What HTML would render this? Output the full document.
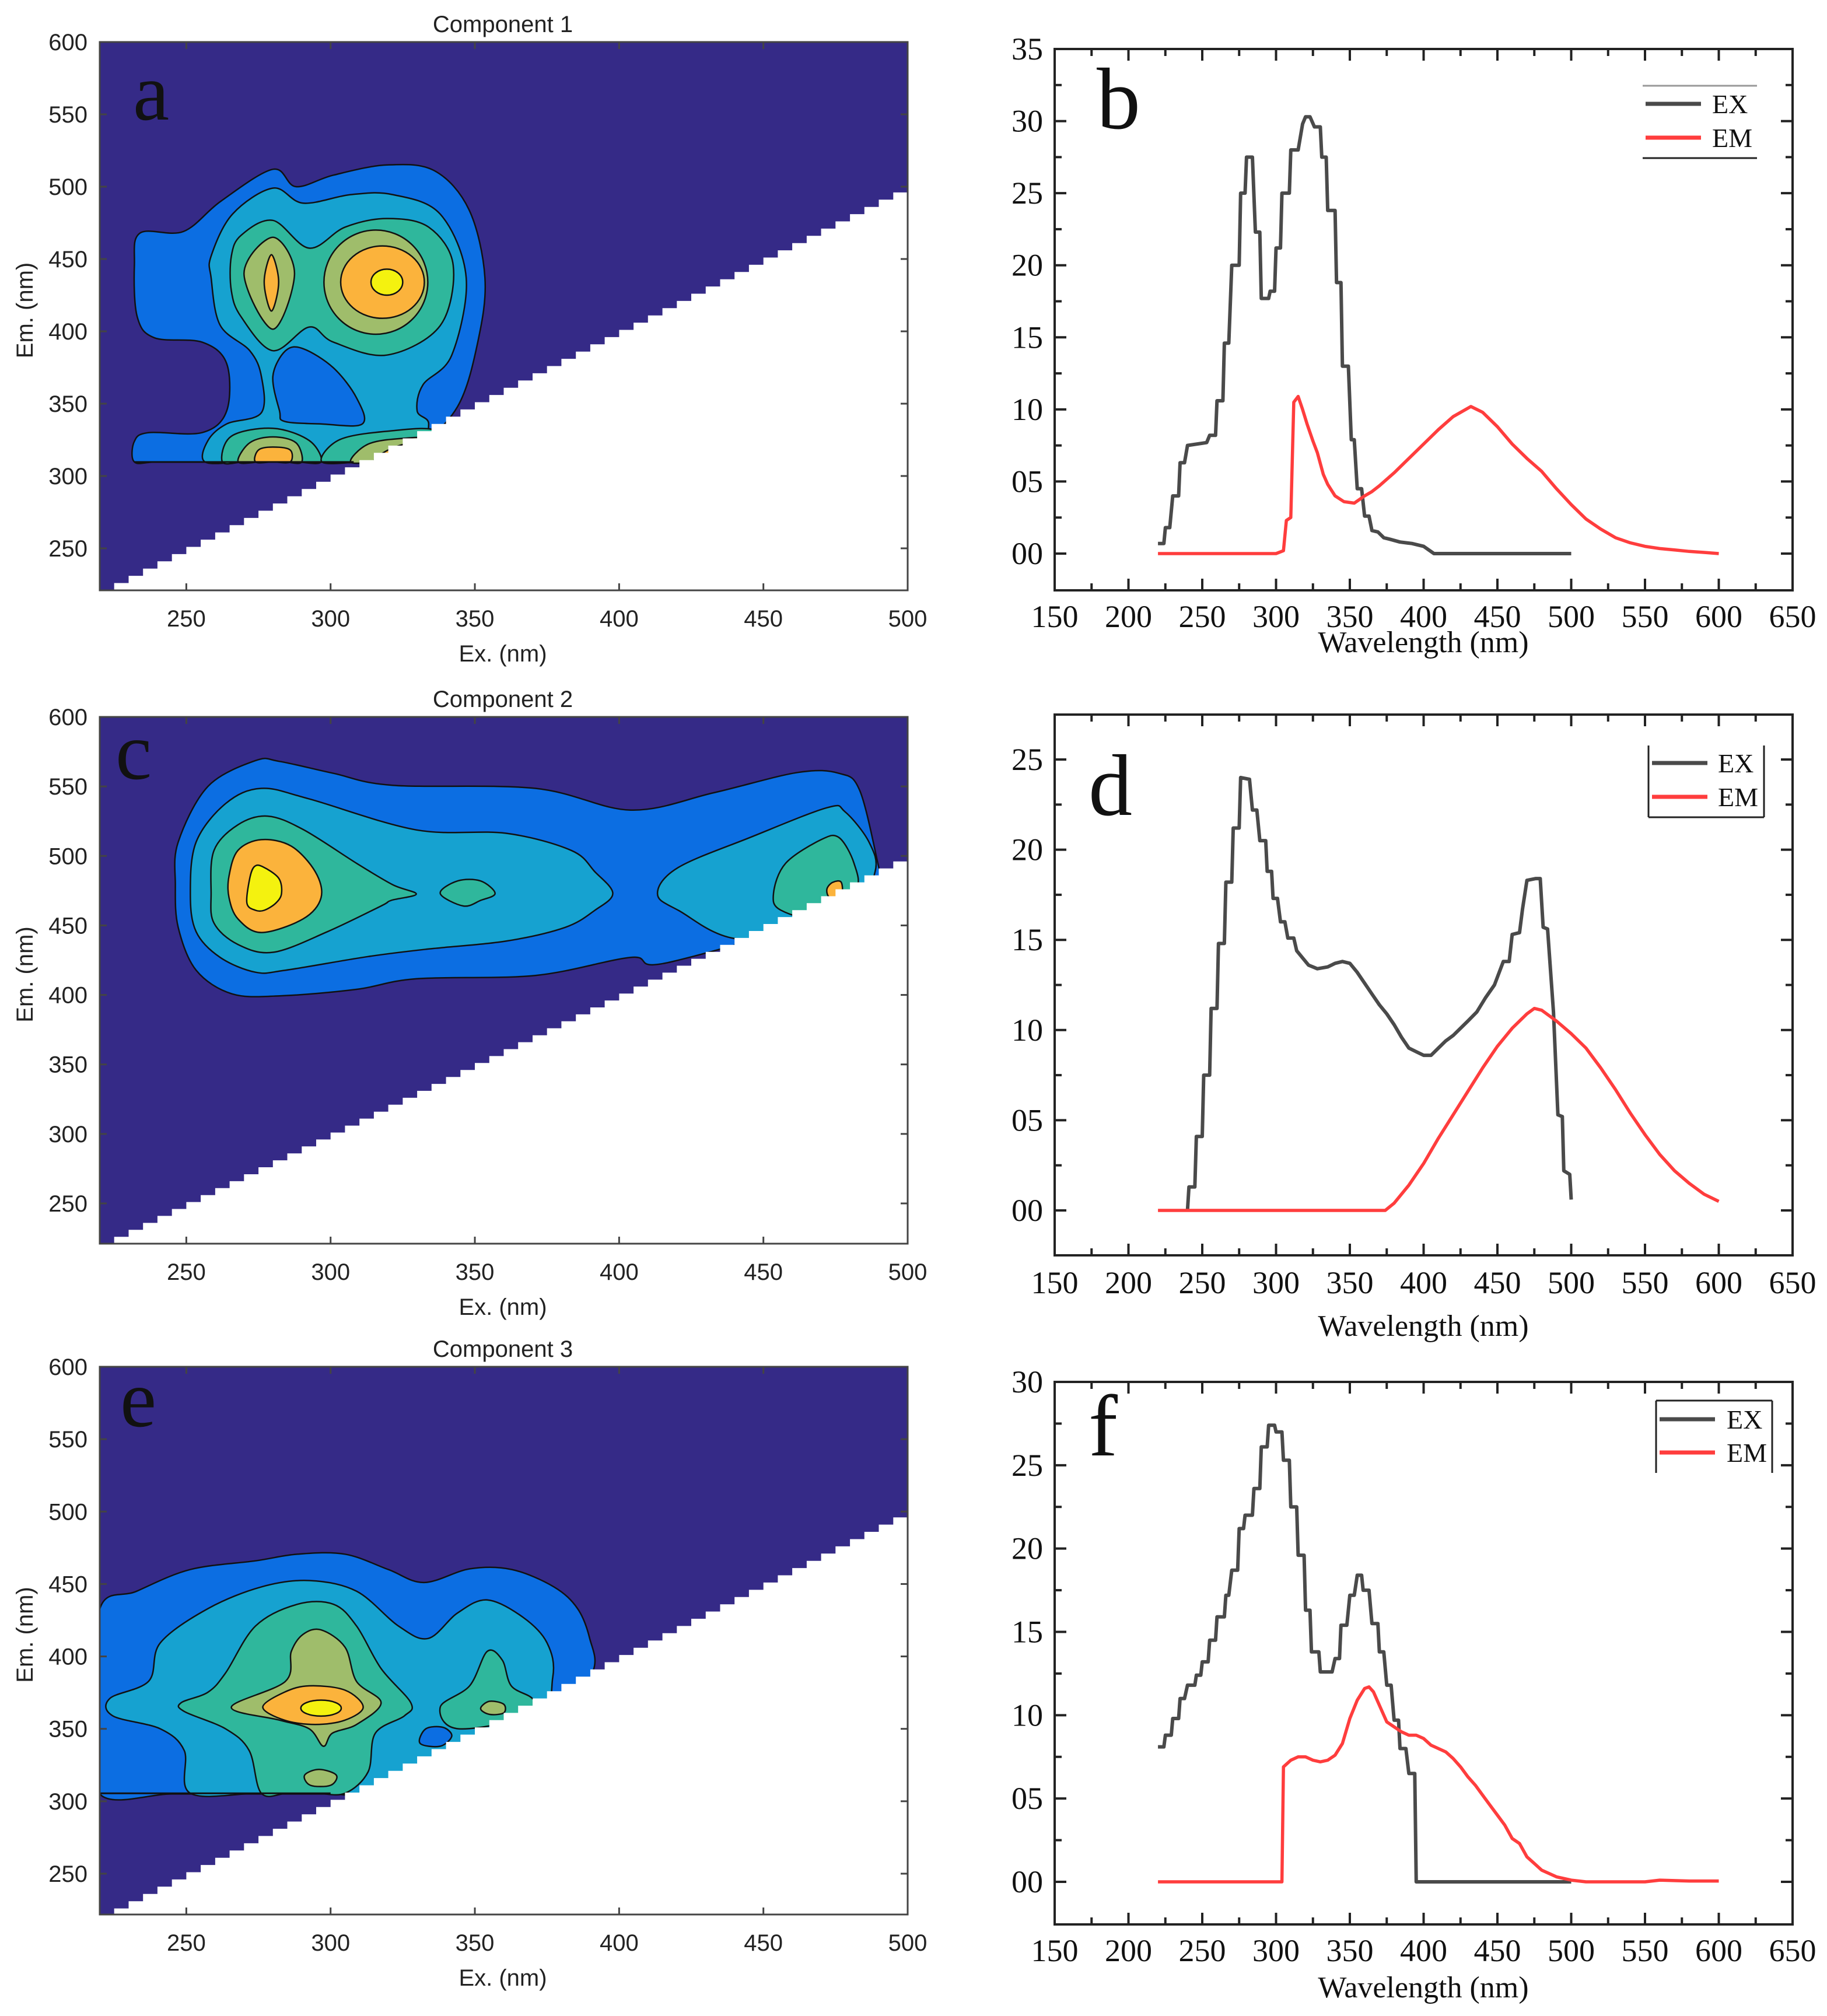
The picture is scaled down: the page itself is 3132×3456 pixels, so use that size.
<!DOCTYPE html>
<html><head><meta charset="utf-8"><title>EEM PARAFAC components</title>
<style>
html,body{margin:0;padding:0;background:#fff;}
svg{display:block;}
.sans{font-family:"Liberation Sans",Arial,sans-serif;fill:#222;}
.serif{font-family:"Liberation Serif","Times New Roman",serif;fill:#111;}
</style></head>
<body>
<svg id="fig" xmlns="http://www.w3.org/2000/svg" width="3132" height="3456" viewBox="0 0 3132 3456">
<rect x="0" y="0" width="3132" height="3456" fill="#fff"/>
</svg>
<script>
// ---------- Spectral data (wavelength, intensity) ----------
const bExWl = [220,224,225,228,230,234,235,238,240,253,255,259,260,264,265,268,270,275,276,279,280,284,286,289,290,295,296,299,300,303,304,309,310,315,318,320,323,326,330,331,334,335,340,341,344,345,349,351,353,355,358,360,363,365,369,373,377,384,392,400,407,500];
const bExVal = [0.7,0.7,1.8,1.8,4.0,4.0,6.3,6.3,7.5,7.7,8.2,8.2,10.6,10.6,14.6,14.6,20.0,20.0,25.0,25.0,27.5,27.5,22.3,22.3,17.7,17.7,18.2,18.2,21.2,21.2,25.0,25.0,28.0,28.0,29.8,30.3,30.3,29.6,29.6,27.5,27.5,23.8,23.8,18.8,18.8,13.0,13.0,7.9,7.9,4.5,4.5,2.6,2.6,1.6,1.5,1.1,1.0,0.8,0.7,0.5,0.0,0.0];
const bEmWl = [220,300,305,307,310,312,315,318,321,325,328,332,335,340,346,353,360,365,370,380,390,400,410,420,432,440,450,460,470,480,490,500,510,520,530,540,550,560,570,580,590,600];
const bEmVal = [0,0,0.2,2.3,2.5,10.5,10.9,10.0,9.0,7.8,7.0,5.5,4.8,4.0,3.6,3.5,4.0,4.3,4.7,5.6,6.6,7.6,8.6,9.5,10.2,9.8,8.8,7.6,6.6,5.7,4.5,3.4,2.4,1.7,1.1,0.75,0.5,0.35,0.25,0.15,0.08,0.0];

const dExWl = [240,241,245,246,250,251,255,256,260,261,265,266,270,271,275,276,282,284,287,289,293,294,297,298,301,303,306,308,312,314,318,322,328,335,340,345,350,355,360,365,370,375,380,385,390,395,400,405,410,415,420,425,430,436,442,448,454,458,460,465,467,470,476,479,481,484,488,491,494,495,499,500];
const dExVal = [0,1.3,1.3,4.1,4.1,7.5,7.5,11.2,11.2,14.8,14.8,18.2,18.2,21.2,21.2,24.0,23.9,22.2,22.2,20.5,20.5,18.8,18.8,17.3,17.3,16.0,16.0,15.1,15.1,14.4,14.0,13.6,13.4,13.5,13.7,13.8,13.7,13.2,12.6,12.0,11.4,10.9,10.3,9.6,9.0,8.8,8.6,8.6,9.0,9.4,9.7,10.1,10.5,11.0,11.8,12.5,13.8,13.8,15.3,15.4,16.7,18.3,18.4,18.4,15.7,15.6,11.0,5.3,5.2,2.2,2.0,0.6];
const dEmWl = [220,374,380,390,400,410,420,430,440,450,460,470,475,480,490,500,510,520,530,540,550,560,570,580,590,600];
const dEmVal = [0,0,0.4,1.4,2.6,4.0,5.3,6.6,7.9,9.1,10.1,10.9,11.2,11.1,10.5,9.8,9.0,7.9,6.7,5.4,4.2,3.1,2.2,1.5,0.9,0.5];

const fExWl = [220,224,225,229,230,234,235,238,240,245,246,249,250,254,255,259,260,265,266,268,270,274,275,278,279,284,285,289,290,294,295,299,300,304,305,309,310,314,315,319,320,323,324,329,330,338,340,343,344,348,350,353,355,358,359,363,365,369,370,373,375,378,380,383,384,388,390,394,395,500];
const fExVal = [8.1,8.1,8.8,8.8,9.8,9.8,11.0,11.0,11.8,11.8,12.4,12.4,13.2,13.2,14.5,14.5,15.9,15.9,17.2,17.2,18.7,18.7,21.2,21.2,22.0,22.0,23.6,23.6,26.1,26.1,27.4,27.4,27.0,27.0,25.3,25.3,22.5,22.5,19.6,19.6,16.3,16.3,13.8,13.8,12.6,12.6,13.4,13.4,15.4,15.4,17.2,17.2,18.4,18.4,17.5,17.5,15.5,15.5,13.8,13.8,11.8,11.8,9.7,9.7,8.0,8.0,6.5,6.5,0.0,0.0];
const fEmWl = [220,304,305,310,315,320,325,330,335,340,345,350,355,360,363,366,370,375,380,385,390,395,400,405,410,415,420,425,430,435,440,445,450,455,460,465,470,475,480,490,500,510,550,560,580,600];
const fEmVal = [0,0,6.9,7.3,7.5,7.5,7.3,7.2,7.3,7.6,8.3,9.8,10.9,11.6,11.7,11.4,10.6,9.6,9.3,9.0,8.8,8.8,8.6,8.2,8.0,7.8,7.4,6.9,6.3,5.8,5.2,4.6,4.0,3.4,2.6,2.3,1.5,1.1,0.7,0.3,0.1,0,0,0.1,0.05,0.05];

// spectra tick labels
const xTickLabels = ["150","200","250","300","350","400","450","500","550","600","650"];
const bYTickLabels = ["00","05","10","15","20","25","30","35"];
const dYTickLabels = ["00","05","10","15","20","25"];
const fYTickLabels = ["00","05","10","15","20","25","30"];

// ---------- Contour data (Ex nm, Em nm) ----------
const cTickEx = ["250","300","350","400","450","500"];
const cTickEm = ["250","300","350","400","450","500","550","600"];

const aLevel1 = [[234,468],[249,469],[262,490],[280,512],[288,500],[301,508],[319.5,515],[336,511],[348,484],[353.5,437],[351,392.5],[344,348],[330,320],[315,309.7],[300,309.7],[280,309.7],[260,309.7],[240,309.7],[232,309.7],[232,324],[237,330],[255.5,330],[264,345],[264,377.7],[255.5,392.5],[239,395.5],[233,410],[232,446]];
const aLevel2 = [[256.5,309.7],[257.5,324.5],[264,336],[276,343.7],[276,369],[272,386.6],[261.7,404.3],[258.6,437],[258.6,452],[266,481],[280,499],[290.5,488.6],[307,494.5],[321.5,494.5],[338,481],[347,437],[342,383.6],[332,363],[330,345],[334,336],[330,315],[315,309.7],[300,309.7],[285,309.7],[270,309.7]];
const aHole2 = [[282.3,345],[280,369],[284.4,386.6],[290.5,388],[301,374.7],[309,354],[311,336],[296.7,336],[284,337.8]];
const aLevel3Top = [[265.6,452],[269,466.4],[280,476.7],[292.6,457.5],[305,472],[319.5,478],[334,472],[342.5,445.7],[338,404],[319.5,383.6],[301,392.5],[292.6,403],[280,386.6],[269,410],[265.6,428]];
const aLevel3Bl = [[262.5,309.7],[265.6,327.5],[280,333],[292.6,324.5],[296.7,309.7],[288,309.7],[279,309.7],[270,309.7]];
const aLevel3Br = [[297,309.7],[303,325],[320,331],[337,331],[337,309.7],[325,309.7],[311,309.7]];
const aLevel4L = [[270,440],[280,465],[287.5,440],[280,401.5]];
const aLevel4Bl = [[268,309.7],[272,323],[280,327],[288,323],[290,309.7],[284,309.7],[276,309.7]];
const aLevel4Br = [[307,309.7],[313,322],[325,326],[335,325],[335,309.7],[327,309.7],[317,309.7]];
const aLevel4R = [[315.7,434,18,36]];
const aLevel5L = [[277,434],[279.5,453],[282,434],[279.5,414]];
const aLevel5R = [[318,434,14.5,25]];
const aLevel5Bl = [[274,309.7],[275,318],[280,320],[286,318],[286,309.7],[280,309.7]];
const aLevel5Br = [[315,309.7],[320,318],[328,322],[330,309.7],[322,309.7]];
const aLevel6 = [[319.5,434,5.5,9]];
const aBaseline = [232,308,309.7];

const cLevel1 = [[246.2,479.3],[247.2,510],[257.5,550],[274,568.6],[282.3,568],[301,559.4],[321.5,550.8],[371,548.6],[404,533],[432.9,545.5],[461.8,560],[476.2,559.4],[483.4,547],[490,491.7],[492,470],[418.5,424],[404,427],[371,414],[329.7,411.6],[309,404],[282.3,399.3],[265.8,400.8],[253.4,417.8],[247.2,448.6]];
const cLevel2L = [[251.4,473],[253.4,510],[263.7,537.8],[276,548.6],[292.6,541],[329.7,518.7],[360.7,516.3],[383.4,504],[391.6,488.6],[397.8,473],[391.6,460.9],[381.3,448.6],[360.7,438.7],[333.8,433],[313,427.6],[284.4,417.8],[274,416.3],[261.7,427],[253.4,445.5]];
const cLevel2R = [[413.3,473],[420.5,491.7],[445.3,513.2],[472.1,534.7],[478.3,531.7],[486.6,510],[488.7,488.6],[480,460],[443.2,440],[420.5,460.9]];
const cLevel3L = [[258.6,473],[259.6,504],[267.9,522.4],[278.2,528.6],[290.5,519],[309,494.7],[321.5,479.3],[329.7,472.6],[321,468],[317.5,464],[298.9,445.5],[280.2,430.7],[267.9,436.3],[259.6,451.6]];
const cLevel3M = [[338,473],[344,482],[352,482],[357,473],[352,468],[346,464]];
const cLevel3R = [[453.5,473],[457.7,494.7],[470,511.7],[476.2,513.2],[481.4,494.7],[482,475],[470,455],[456,461]];
const cLevel5 = [[264.8,485.5],[267.9,504],[276,511.7],[286.4,507],[294.7,488.6],[296.7,470],[290.5,454.7],[276,444.9],[267.9,454.7],[264.8,470]];
const cLevel6 = [[273.6,492.3],[276.4,492.3],[282,484],[283,473],[281,466],[277,460.9],[274,460.9],[271,466],[272,484]];
const cLevel5R = [[472,476],[474,481],[477,481],[477,470],[473,470]];

const eLevel1 = [[220,305],[220,360],[220,432.6],[232.8,445],[251.4,460],[274,466],[288.5,470.6],[305,470.6],[320,460],[332.4,451],[348.3,460.5],[362.8,460],[377.4,448],[385.6,433],[389.8,412.4],[391,390],[380,360],[330,305],[300,305],[270,305],[245,305]];
const eLevel2 = [[251.4,305.5],[249.3,335],[241,350],[224.5,359],[223.5,371],[237,383],[241,409.4],[257.5,433],[276,448],[292.6,452.4],[309,445],[323.5,421],[333.8,412.4],[344,430],[354.3,439],[366.7,427],[375,409.4],[377,385.6],[370,350],[330,305.5],[300,305.5],[275,305.5]];
const eHole2 = [[331,340],[333,350],[339,351],[342,345],[338,338]];
const eLevel3L = [[276,305.5],[271.8,335],[263.6,350],[249.3,362],[248.2,368],[257.5,375.3],[263.6,388.6],[274,421],[288.5,436],[301,436],[309,421],[317.5,391.6],[327.8,368],[325.6,359],[315.5,347],[313,320.3],[305,305.5],[295,305.5],[285,305.5]];
const eLevel3R = [[338,365],[348.2,379.7],[354.3,403.5],[359.5,397.5],[362.6,379.7],[369.9,371],[372,360],[344.5,350]];
const eLevel4 = [[265.6,365],[284.3,382.7],[286.4,403.5],[290.5,415.3],[296.7,418.3],[305,406.4],[309,382.7],[317.5,368],[309,353],[300.6,347],[297.5,338],[292.6,350],[282.3,356]];
const eLevel4S = [[296,322],[291,318],[293,311],[300,311],[302,318]];
const eLevel4R = [[355,369],[352,364],[355,360],[360,361],[360,367]];
const eLevel5 = [[276.5,365],[284,375.3],[292.6,379.7],[305,376.7],[311.3,365],[305,356],[294.7,353],[284,356]];
const eLevel6 = [[296.7,364.3,7,5.5]];
const eBaseline = [220,300,305.5];

// ---------- helpers ----------
const NS = "http://www.w3.org/2000/svg";
const svg = document.getElementById("fig");
function mk(tag, attrs, parent) {
  const el = document.createElementNS(NS, tag);
  for (const k in attrs) el.setAttribute(k, attrs[k]);
  (parent || svg).appendChild(el);
  return el;
}
const COL = {navy:"#352a87", l1:"#0c6ee2", l2:"#16a2d0", l3:"#2fb79c", l4:"#9fbd6b", l5:"#fbb33c", l6:"#f4f20f"};

function smooth(pts) {
  const n = pts.length;
  let d = "M" + pts[0][0].toFixed(1) + "," + pts[0][1].toFixed(1);
  for (let i = 0; i < n; i++) {
    const p0 = pts[(i - 1 + n) % n], p1 = pts[i], p2 = pts[(i + 1) % n], p3 = pts[(i + 2) % n];
    const c1x = p1[0] + (p2[0] - p0[0]) / 6, c1y = p1[1] + (p2[1] - p0[1]) / 6;
    const c2x = p2[0] - (p3[0] - p1[0]) / 6, c2y = p2[1] - (p3[1] - p1[1]) / 6;
    d += "C" + c1x.toFixed(1) + "," + c1y.toFixed(1) + " " + c2x.toFixed(1) + "," + c2y.toFixed(1) + " " + p2[0].toFixed(1) + "," + p2[1].toFixed(1);
  }
  return d + "Z";
}

// ---------- contour panel ----------
function contourPanel(cfg) {
  const g = mk("g", {});
  
  
  const L = 171, R = 1556, T = cfg.top, B = cfg.bottom;
  const emAt250 = cfg.y250;
  const kx = (R - L) / 280, ky = (emAt250 - T) / 350;
  const X = ex => L + (ex - 220) * kx;
  const Y = em => T + (600 - em) * ky;
  const emMin = 600 - (B - T) / ky;
  const clipId = "clip-" + cfg.name;
  const defs = mk("defs", {}, g);
  const cp = mk("clipPath", {id: clipId}, defs);
  mk("rect", {x: L, y: T, width: R - L, height: B - T}, cp);
  const pg = mk("g", {"clip-path": "url(#" + clipId + ")"}, g);
  const bg = mk("rect", {x: L, y: T, width: R - L, height: B - T, fill: COL.navy}, pg);
  
  
  cfg.layers.forEach(ly => {
    ly.polys.forEach(poly => {
      let el;
      if (poly.length && poly[0].length === 4) {
        const e = poly[0];
        el = mk("ellipse", {cx: X(e[0]), cy: Y(e[1]), rx: e[2] * kx, ry: e[3] * ky, fill: ly.color, stroke: "#111", "stroke-width": 2.5}, pg);
      } else {
        const pts = poly.map(p => [X(p[0]), Y(p[1])]);
        el = mk("path", {d: smooth(pts), fill: ly.color, stroke: "#111", "stroke-width": 2.5, "stroke-linejoin": "round"}, pg);
      }
      
      
    });
  });
  if (cfg.baseline) {
    const bl = mk("line", {x1: X(cfg.baseline[0]), x2: X(cfg.baseline[1]), y1: Y(cfg.baseline[2]), y2: Y(cfg.baseline[2]), stroke: "#111", "stroke-width": 3}, pg);
    
    
  }
  let d = "M" + X(220) + "," + Y(emMin - 5);
  for (let e = 220; e < 500; e += 5) {
    d += " L" + X(e).toFixed(1) + "," + Y(e + 1).toFixed(1) + " L" + X(e + 5).toFixed(1) + "," + Y(e + 1).toFixed(1);
  }
  d += " L" + X(502) + "," + Y(501) + " L" + X(502) + "," + Y(emMin - 5) + " Z";
  const wt = mk("path", {d: d, fill: "#fff"}, pg);
  
  
  const fr = mk("rect", {x: L, y: T, width: R - L, height: B - T, fill: "none", stroke: "#444", "stroke-width": 3}, g);
  
  
  cTickEx.forEach(t => {
    const x = X(+t);
    mk("line", {x1: x, x2: x, y1: B, y2: B - 12, stroke: "#444", "stroke-width": 3}, g);
    mk("line", {x1: x, x2: x, y1: T, y2: T + 12, stroke: "#444", "stroke-width": 3}, g);
    const tx = mk("text", {x: x, y: B + 62, "font-size": 40, "text-anchor": "middle", class: "sans"}, g);
    tx.textContent = t;
    
    
  });
  cTickEm.forEach(t => {
    const y = Y(+t);
    mk("line", {x1: L, x2: L + 12, y1: y, y2: y, stroke: "#444", "stroke-width": 3}, g);
    mk("line", {x1: R, x2: R - 12, y1: y, y2: y, stroke: "#444", "stroke-width": 3}, g);
    const tx = mk("text", {x: 150, y: y + 14, "font-size": 40, "text-anchor": "end", class: "sans"}, g);
    tx.textContent = t;
    
    
  });
  const ttl = mk("text", {x: 862, y: T - 17, "font-size": 40, "text-anchor": "middle", class: "sans"}, g);
  ttl.textContent = cfg.title;
  
  
  const xt = mk("text", {x: 862, y: B + 122, "font-size": 40, "text-anchor": "middle", class: "sans"}, g);
  xt.textContent = "Ex. (nm)";
  
  
  const cy = (T + B) / 2 - 10;
  const yt = mk("text", {x: 0, y: 0, "font-size": 40, "text-anchor": "middle", class: "sans", transform: "translate(56," + cy + ") rotate(-90)"}, g);
  yt.textContent = "Em. (nm)";
  
  
  const lt = mk("text", {x: cfg.letterX, y: cfg.letterY, "font-size": 140, class: "serif"}, g);
  lt.textContent = cfg.letter;
  
  
}

// ---------- spectra panel ----------
function spectraPanel(cfg) {
  const g = mk("g", {});
  
  
  const L = 1808, R = 3073, T = cfg.top, B = cfg.bottom;
  const X = w => L + (w - 150) * (R - L) / 500;
  const Y = v => cfg.y0 - v * cfg.k;
  const fr = mk("rect", {x: L, y: T, width: R - L, height: B - T, fill: "none", stroke: "#222", "stroke-width": 4}, g);
  
  
  for (let w = 150; w <= 650; w += 25) {
    const major = w % 50 === 0, len = major ? 20 : 12, x = X(w);
    mk("line", {x1: x, x2: x, y1: B, y2: B - len, stroke: "#222", "stroke-width": 4}, g);
    mk("line", {x1: x, x2: x, y1: T, y2: T + len, stroke: "#222", "stroke-width": 4}, g);
  }
  xTickLabels.forEach(t => {
    const tx = mk("text", {x: X(+t), y: cfg.xLabY, "font-size": 54, "text-anchor": "middle", class: "serif"}, g);
    tx.textContent = t;
    
    
  });
  const maxV = (cfg.yLabels.length - 1) * 5;
  for (let v = 0; v <= maxV + 0.01; v += 2.5) {
    const y = Y(v); if (y < T - 1) continue;
    const major = Math.abs(v % 5) < 0.01, len = major ? 20 : 12;
    mk("line", {x1: L, x2: L + len, y1: y, y2: y, stroke: "#222", "stroke-width": 4}, g);
    mk("line", {x1: R, x2: R - len, y1: y, y2: y, stroke: "#222", "stroke-width": 4}, g);
  }
  cfg.yLabels.forEach((t, i) => {
    const tx = mk("text", {x: 1788, y: Y(i * 5) + 18, "font-size": 54, "text-anchor": "end", class: "serif"}, g);
    tx.textContent = t;
    
    
  });
  const xt = mk("text", {x: 2440, y: cfg.titleY, "font-size": 52, "text-anchor": "middle", class: "serif"}, g);
  xt.textContent = "Wavelength (nm)";
  
  
  const exL = mk("polyline", {points: cfg.exWl.map((w, i) => X(w).toFixed(1) + "," + Y(cfg.exVal[i]).toFixed(1)).join(" "), fill: "none", stroke: "#4a4a4a", "stroke-width": 6, "stroke-linejoin": "round"}, g);
  
  
  const emL = mk("polyline", {points: cfg.emWl.map((w, i) => X(w).toFixed(1) + "," + Y(cfg.emVal[i]).toFixed(1)).join(" "), fill: "none", stroke: "#ff3d3d", "stroke-width": 5.5, "stroke-linejoin": "round"}, g);
  
  
  const lg = mk("g", {}, g);
  
  
  const Lg = cfg.legend;
  Lg.lines.forEach(ln => mk("line", {x1: ln[0], y1: ln[1], x2: ln[2], y2: ln[3], stroke: ln[4] || "#222", "stroke-width": 3}, lg));
  [["EX", "#4a4a4a", Lg.y1], ["EM", "#ff3d3d", Lg.y2]].forEach(e => {
    const ent = mk("g", {}, lg);
    
    
    mk("line", {x1: Lg.x1, x2: Lg.x1 + 95, y1: e[2], y2: e[2], stroke: e[1], "stroke-width": 7}, ent);
    const t = mk("text", {x: Lg.tx, y: e[2] + 16, "font-size": 46, class: "serif"}, ent);
    t.textContent = e[0];
  });
  const lt = mk("text", {x: cfg.letterX, y: cfg.letterY, "font-size": 150, class: "serif"}, g);
  lt.textContent = cfg.letter;
  
  
}

contourPanel({name: "component-1-contour", title: "Component 1", letter: "a", letterX: 228, letterY: 205, top: 72, bottom: 1012, y250: 940,
  baseline: aBaseline,
  layers: [
    {label: "contour-level-1", color: COL.l1, polys: [aLevel1]},
    {label: "contour-level-2", color: COL.l2, polys: [aLevel2]},
    {label: "contour-hole", color: COL.l1, polys: [aHole2]},
    {label: "contour-level-3", color: COL.l3, polys: [aLevel3Top, aLevel3Bl, aLevel3Br]},
    {label: "contour-level-4", color: COL.l4, polys: [aLevel4L, aLevel4R, aLevel4Bl, aLevel4Br]},
    {label: "contour-level-5", color: COL.l5, polys: [aLevel5L, aLevel5R, aLevel5Bl, aLevel5Br]},
    {label: "contour-peak", color: COL.l6, polys: [aLevel6]}
  ]});
contourPanel({name: "component-2-contour", title: "Component 2", letter: "c", letterX: 198, letterY: 1335, top: 1229, bottom: 2132, y250: 2063,
  layers: [
    {label: "contour-level-1", color: COL.l1, polys: [cLevel1]},
    {label: "contour-level-2", color: COL.l2, polys: [cLevel2L, cLevel2R]},
    {label: "contour-level-3", color: COL.l3, polys: [cLevel3L, cLevel3M, cLevel3R]},
    {label: "contour-level-5", color: COL.l5, polys: [cLevel5, cLevel5R]},
    {label: "contour-peak", color: COL.l6, polys: [cLevel6]}
  ]});
contourPanel({name: "component-3-contour", title: "Component 3", letter: "e", letterX: 206, letterY: 2445, top: 2343, bottom: 3282, y250: 3212,
  baseline: eBaseline,
  layers: [
    {label: "contour-level-1", color: COL.l1, polys: [eLevel1]},
    {label: "contour-level-2", color: COL.l2, polys: [eLevel2]},
    {label: "contour-hole", color: COL.l1, polys: [eHole2]},
    {label: "contour-level-3", color: COL.l3, polys: [eLevel3L, eLevel3R]},
    {label: "contour-level-4", color: COL.l4, polys: [eLevel4, eLevel4S, eLevel4R]},
    {label: "contour-level-5", color: COL.l5, polys: [eLevel5]},
    {label: "contour-peak", color: COL.l6, polys: [eLevel6]}
  ]});

spectraPanel({name: "component-1-spectra", letter: "b", letterX: 1880, letterY: 220, top: 84, bottom: 1012, y0: 949, k: 865 / 35,
  xLabY: 1075, titleY: 1118, yLabels: bYTickLabels, exWl: bExWl, exVal: bExVal, emWl: bEmWl, emVal: bEmVal,
  legend: {x1: 2821, tx: 2935, y1: 178, y2: 236, lines: [[2816, 147, 3012, 147, "#999"], [2816, 271, 3012, 271]]}});
spectraPanel({name: "component-2-spectra", letter: "d", letterX: 1866, letterY: 1397, top: 1225, bottom: 2152, y0: 2075, k: 773 / 25,
  xLabY: 2217, titleY: 2290, yLabels: dYTickLabels, exWl: dExWl, exVal: dExVal, emWl: dEmWl, emVal: dEmVal,
  legend: {x1: 2832, tx: 2945, y1: 1308, y2: 1366, lines: [[2826, 1278, 2826, 1401], [3024, 1278, 3024, 1401], [2826, 1401, 3024, 1401]]}});
spectraPanel({name: "component-3-spectra", letter: "f", letterX: 1866, letterY: 2495, top: 2369, bottom: 3299, y0: 3226, k: 857 / 30,
  xLabY: 3362, titleY: 3424, yLabels: fYTickLabels, exWl: fExWl, exVal: fExVal, emWl: fEmWl, emVal: fEmVal,
  legend: {x1: 2845, tx: 2960, y1: 2433, y2: 2490, lines: [[2839, 2401, 3038, 2401], [2839, 2401, 2839, 2525], [3038, 2401, 3038, 2525]]}});
</script>
</body></html>
